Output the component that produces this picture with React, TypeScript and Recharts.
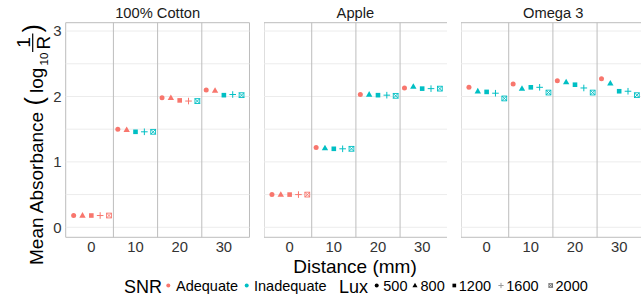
import React from "react";
import { ScatterChart, Scatter, XAxis, YAxis, ReferenceLine, ReferenceArea } from "recharts";

// ---- data ----
const distances = [0, 10, 20, 30];
const luxLevels = [500, 800, 1200, 1600, 2000];
const panelNames = ["100% Cotton", "Apple", "Omega 3"];
const xTicks = [0, 10, 20, 30];
const yTicks = [0, 1, 2, 3];
const yGrid = [0, 0.5, 1, 1.5, 2, 2.5, 3];
const xSeparators = [5, 15, 25];

// values per lux level, indexed by distance
const cottonValues = [
  [0.18, 1.5, 1.98, 2.1],
  [0.18, 1.49, 1.98, 2.09],
  [0.18, 1.46, 1.94, 2.02],
  [0.18, 1.46, 1.93, 2.03],
  [0.18, 1.46, 1.93, 2.02],
];
const cottonSnr = [
  ["A", "A", "A", "A"],
  ["A", "A", "A", "A"],
  ["A", "I", "A", "I"],
  ["A", "I", "A", "I"],
  ["A", "I", "I", "I"],
];
const appleValues = [
  [0.5, 1.22, 2.03, 2.13],
  [0.5, 1.21, 2.03, 2.15],
  [0.5, 1.2, 2.02, 2.12],
  [0.5, 1.2, 2.02, 2.12],
  [0.5, 1.2, 2.01, 2.12],
];
const appleSnr = [
  ["A", "A", "A", "A"],
  ["A", "I", "I", "I"],
  ["A", "I", "I", "I"],
  ["A", "I", "I", "I"],
  ["A", "I", "I", "I"],
];
const omegaValues = [
  [2.14, 2.19, 2.24, 2.27],
  [2.08, 2.12, 2.22, 2.2],
  [2.07, 2.14, 2.18, 2.08],
  [2.05, 2.14, 2.13, 2.08],
  [1.97, 2.06, 2.06, 2.02],
];
const omegaSnr = [
  ["A", "A", "A", "A"],
  ["I", "I", "I", "I"],
  ["I", "I", "I", "I"],
  ["I", "I", "I", "I"],
  ["I", "I", "I", "I"],
];

const panelValues = [cottonValues, appleValues, omegaValues];
const panelSnr = [cottonSnr, appleSnr, omegaSnr];

// ---- style ----
const FONT = '"Liberation Sans", Arial, Helvetica, sans-serif';
const RED = "#F8766D";
const TEAL = "#00BFC4";
const X_DOMAIN = [-5.8, 35.8];
const Y_DOMAIN = [-0.153, 3.128];
const PLOT_TOP = 22.7;
const PLOT_H = 214.6;
const PANEL_W = 183.8;
const Y_AXIS_W = 65.7;
const PANEL_LEFTS = [0, 263.5, 461.3];
const X_AXIS_H = 30;

function Mark({ cx, cy, lux, color, s = 1 }: any) {
  if (cx == null || cy == null) return null;
  switch (lux) {
    case 500:
      return <circle cx={cx} cy={cy} r={2.5 * s} fill={color} />;
    case 800: {
      const h = 3.4 * s;
      const w = 3.2 * s;
      return (
        <polygon
          points={`${cx},${cy - h} ${cx - w},${cy + 2.2 * s} ${cx + w},${cy + 2.2 * s}`}
          fill={color}
        />
      );
    }
    case 1200:
      return <rect x={cx - 2.3 * s} y={cy - 2.3 * s} width={4.6 * s} height={4.6 * s} fill={color} />;
    case 1600:
      return (
        <path
          d={`M${cx - 3.3 * s},${cy}H${cx + 3.3 * s}M${cx},${cy - 3.3 * s}V${cy + 3.3 * s}`}
          stroke={color}
          strokeWidth={1}
          fill="none"
        />
      );
    case 2000: {
      const a = 2.4 * s;
      return (
        <g stroke={color} strokeWidth={0.9} fill="none">
          <rect x={cx - a} y={cy - a} width={2 * a} height={2 * a} />
          <path d={`M${cx - a},${cy - a}L${cx + a},${cy + a}M${cx - a},${cy + a}L${cx + a},${cy - a}`} />
        </g>
      );
    }
    default:
      return null;
  }
}

function Panel({ idx }: { idx: number }) {
  const withY = idx === 0;
  const width = PANEL_W + (withY ? Y_AXIS_W : 0);
  const values = panelValues[idx];
  const snr = panelSnr[idx];
  return (
    <div style={{ position: "absolute", left: PANEL_LEFTS[idx], top: 0 }}>
      <ScatterChart
        width={width}
        height={PLOT_TOP + PLOT_H + X_AXIS_H}
        margin={{ top: PLOT_TOP, right: 0, bottom: 0, left: 0 }}
      >
        <XAxis
          type="number"
          dataKey="x"
          domain={X_DOMAIN}
          ticks={xTicks}
          allowDataOverflow
          axisLine={false}
          tickLine={false}
          tickSize={2}
          tickMargin={2}
          height={X_AXIS_H}
          tick={{ fontSize: 14.8, fill: "#333", fontFamily: FONT }}
          interval={0}
        />
        <YAxis
          type="number"
          dataKey="y"
          domain={Y_DOMAIN}
          ticks={yTicks}
          allowDataOverflow
          hide={!withY}
          width={withY ? Y_AXIS_W : 0}
          axisLine={false}
          tickLine={false}
          tickSize={2}
          tickMargin={2}
          tick={{ fontSize: 15, fill: "#333", fontFamily: FONT }}
          interval={0}
        />
        {yGrid.map((v) => (
          <ReferenceLine key={"h" + v} y={v} stroke="#ececec" strokeWidth={1} ifOverflow="visible" />
        ))}
        {xSeparators.map((v) => (
          <ReferenceLine key={"v" + v} x={v} stroke="#bdbdbd" strokeWidth={1} ifOverflow="visible" />
        ))}
        <ReferenceArea
          x1={X_DOMAIN[0]}
          x2={X_DOMAIN[1]}
          y1={Y_DOMAIN[0]}
          y2={Y_DOMAIN[1]}
          fill="none"
          fillOpacity={0}
          stroke="#bdbdbd"
          strokeWidth={1}
          ifOverflow="visible"
        />
        {luxLevels.map((lux, li) => {
          const data = distances.map((d, di) => ({
            x: d + (li - 2) * 2,
            y: values[li][di],
            snr: snr[li][di],
          }));
          return (
            <Scatter
              key={lux}
              data={data}
              isAnimationActive={false}
              shape={(p: any) => (
                <Mark cx={p.cx} cy={p.cy} lux={lux} color={p.payload.snr === "A" ? RED : TEAL} />
              )}
            />
          );
        })}
      </ScatterChart>
    </div>
  );
}

function Overlay() {
  const stripCenters = PANEL_LEFTS.map((l, i) => (i === 0 ? l + Y_AXIS_W : l) + PANEL_W / 2);
  const ly = 285.5;
  const tb = 290.5;
  return (
    <svg
      width={641}
      height={296}
      style={{ position: "absolute", left: 0, top: 0, pointerEvents: "none", fontFamily: FONT }}
    >
      {panelNames.map((n, i) => (
        <text key={n} x={stripCenters[i]} y={18.3} fontSize={14.7} textAnchor="middle" fill="#1a1a1a">
          {n}
        </text>
      ))}
      <text x={355} y={272.5} fontSize={19} textAnchor="middle" fill="#000">
        Distance (mm)
      </text>
      <g transform="translate(43,265) rotate(-90)" fill="#000">
        <text x={0} y={0} fontSize={19}>
          Mean Absorbance
        </text>
        <text x={159.5} y={-0.5} fontSize={25}>
          (
        </text>
        <text x={172} y={0} fontSize={19}>
          log
        </text>
        <text x={199.5} y={5} fontSize={11.5}>
          10
        </text>
        <text x={222.5} y={-13} fontSize={19} textAnchor="middle">
          1
        </text>
        <line x1={213} x2={231.5} y1={-10.3} y2={-10.3} stroke="#000" strokeWidth={1.2} />
        <text x={222.5} y={7} fontSize={19} textAnchor="middle">
          R
        </text>
        <text x={232.5} y={-2} fontSize={25}>
          )
        </text>
      </g>
      {/* legend */}
      <text x={162} y={292.5} fontSize={18} textAnchor="end" fill="#000">
        SNR
      </text>
      <circle cx={168.3} cy={ly} r={2} fill={RED} />
      <text x={176} y={tb} fontSize={14.5} fill="#000">
        Adequate
      </text>
      <circle cx={246.7} cy={ly} r={2} fill={TEAL} />
      <text x={254} y={tb} fontSize={14.5} fill="#000">
        Inadequate
      </text>
      <text x={339} y={292.5} fontSize={18} fill="#000">
        Lux
      </text>
      <Mark cx={376.7} cy={ly} lux={500} color="#000" s={0.8} />
      <text x={383.3} y={tb} fontSize={14.5} fill="#000">
        500
      </text>
      <Mark cx={415} cy={ly} lux={800} color="#000" s={0.8} />
      <text x={420.5} y={tb} fontSize={14.5} fill="#000">
        800
      </text>
      <Mark cx={454.3} cy={ly} lux={1200} color="#000" s={0.8} />
      <text x={458.8} y={tb} fontSize={14.5} fill="#000">
        1200
      </text>
      <Mark cx={501} cy={ly} lux={1600} color="#999" s={0.8} />
      <text x={506.3} y={tb} fontSize={14.5} fill="#000">
        1600
      </text>
      <Mark cx={550.7} cy={ly} lux={2000} color="#666" s={0.75} />
      <text x={555.5} y={tb} fontSize={14.5} fill="#000">
        2000
      </text>
    </svg>
  );
}

export default function App() {
  return (
    <div
      style={{
        position: "absolute",
        left: 0,
        top: 0,
        width: 641,
        height: 296,
        overflow: "hidden",
        background: "#fff",
        fontFamily: FONT,
      }}
    >
      {[0, 1, 2].map((i) => (
        <Panel key={i} idx={i} />
      ))}
      <Overlay />
    </div>
  );
}
